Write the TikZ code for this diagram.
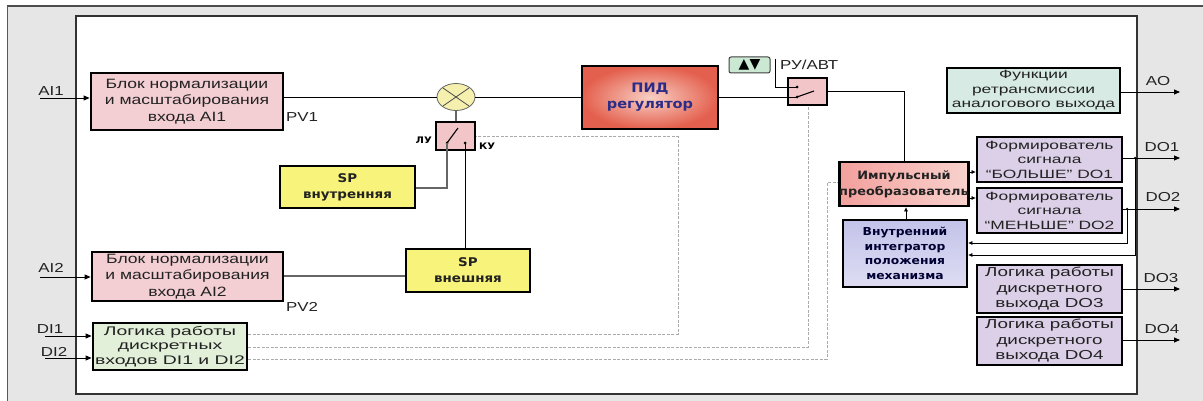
\documentclass[tikz,border=0pt]{standalone}
\usepackage{fontspec}
\setmainfont{Liberation Sans}
\newfontfamily\fr{Liberation Sans}[FakeStretch=1.3]
\newfontfamily\fw{Liberation Sans}[FakeStretch=1.45]
\newfontfamily\fwd{Liberation Sans}[FakeStretch=1.55]
\newfontfamily\fbd{DejaVu Sans}[FakeStretch=1.12]
\newfontfamily\fsym{DejaVu Sans}
\usetikzlibrary{arrows.meta,calc,shapes.geometric}
\definecolor{bgout}{HTML}{E6E6E6}
\definecolor{pinkb}{HTML}{F3CFD3}
\definecolor{swpink}{HTML}{F2C6C8}
\definecolor{yelb}{HTML}{F8F37A}
\definecolor{lavb}{HTML}{DCD0E8}
\definecolor{funcb}{HTML}{D7EBE4}
\definecolor{dib}{HTML}{E2EFD9}
\definecolor{circf}{HTML}{F5F0AE}
\definecolor{greenb}{HTML}{CBE8D3}
\definecolor{pidtxt}{HTML}{2B2B88}
\definecolor{pidout}{HTML}{E4604E}
\definecolor{pidin}{HTML}{F8CFC4}
\definecolor{impa}{HTML}{F3A09C}
\definecolor{impb}{HTML}{F9D2CE}
\definecolor{intga}{HTML}{C3C3EA}
\definecolor{intgb}{HTML}{DEDDF3}
\definecolor{txt}{HTML}{222222}
\definecolor{dash}{HTML}{ABABAB}
\tikzset{
  blk/.style={draw=black, line width=2.8pt, inner sep=0pt, align=center, text=txt},
  normb/.style={blk, fill=pinkb, font=\fr\fontsize{13.5}{16.5}\selectfont},
  wideb/.style={blk, font=\fw\fontsize{12}{14.5}\selectfont},
  boldb/.style={blk, font=\fbd\bfseries\fontsize{11}{15}\selectfont},
  lbl/.style={font=\fr\fontsize{13}{15}\selectfont, text=txt, inner sep=0pt},
  arr/.style={-{Triangle[length=6pt,width=5pt]}, line width=0.8pt},
  sarr/.style={-{Triangle[length=4pt,width=3.5pt]}, line width=0.7pt},
  ln/.style={line width=0.8pt},
  gln/.style={line width=1.1pt, draw=gray!80!black},
  dln/.style={dashed, dash pattern=on 3pt off 1.5pt, line width=1pt, draw=dash},
  dotc/.style={circle, fill=black, inner sep=0pt, minimum size=3pt},
}
\begin{document}
\begin{tikzpicture}[x=1pt,y=-1pt]
\useasboundingbox (0,0) rectangle (1203,401);
% frames
\fill[bgout] (7,6) rectangle (1203,401);
\draw[line width=2pt, draw=gray!60!black] (7,6) -- (1203,6);
\draw[line width=1pt, draw=gray!70!black] (7,6) -- (7,401);
\draw[fill=white, line width=1.2pt, draw=gray!40!black] (76,16) rectangle (1137,394);

% nodes
\node[normb, minimum width=192pt, minimum height=57pt] (normA) at (187,101.5) {Блок нормализации\\и масштабирования\\входа AI1};
\node[normb, minimum width=191pt, minimum height=49pt] (normB) at (187.5,276.5) {Блок нормализации\\и масштабирования\\входа AI2};
\node[blk, fill=dib, minimum width=154pt, minimum height=47pt, font=\fwd\fontsize{12.5}{14.5}\selectfont] (dil) at (170,346.5) {Логика работы\\дискретных\\входов DI1 и DI2};
\node[ellipse, draw=gray!80!black, line width=0.8pt, fill=circf, minimum width=38pt, minimum height=27pt, inner sep=0pt] (circ) at (456,97) {};
\draw[line width=0.8pt, gray!60!black] ($(circ.center)+(-13,-9)$) -- ($(circ.center)+(13,9)$);
\draw[line width=0.8pt, gray!60!black] ($(circ.center)+(-13,9)$) -- ($(circ.center)+(13,-9)$);
\node[blk, fill=swpink, minimum width=39pt, minimum height=28pt] (swL) at (455.5,136) {};
\node[boldb, fill=yelb, minimum width=135pt, minimum height=42pt, font=\fbd\bfseries\fontsize{12}{16}\selectfont] (spin) at (347.5,187) {SP\\внутренняя};
\node[boldb, fill=yelb, minimum width=124pt, minimum height=43pt, font=\fbd\bfseries\fontsize{12}{16}\selectfont] (spex) at (468,270.5) {SP\\внешняя};
\node[blk, shading=radial, inner color=pidin, outer color=pidout, minimum width=136pt, minimum height=63pt, font=\fbd\bfseries\fontsize{13}{16}\selectfont, text=pidtxt] (pid) at (650,97.5) {ПИД\\регулятор};
\node[draw=gray!50!black, line width=1pt, rounded corners=2pt, fill=greenb, minimum width=41pt, minimum height=16pt, inner sep=0pt, font=\fsym\fontsize{14}{14}\selectfont] (updn) at (749.5,65) {▲▼};
\node[lbl, anchor=west] (ruavt) at (780,65) {РУ/АВТ};
\node[blk, fill=swpink, minimum width=39pt, minimum height=27pt] (swR) at (807.5,91.5) {};
\node[wideb, fill=funcb, minimum width=173pt, minimum height=45pt] (func) at (1033.5,90.5) {Функции\\ретрансмиссии\\аналогового выхода};
\node[boldb, left color=impa, right color=impb, minimum width=122pt, minimum height=44pt, font=\fbd\bfseries\fontsize{11.5}{16}\selectfont] (imp) at (904,184) {Импульсный\\преобразователь};
\node[boldb, top color=intga, bottom color=intgb, minimum width=124pt, minimum height=67pt, text=black!80!blue, font=\fbd\bfseries\fontsize{11}{14.5}\selectfont] (integ) at (905,253.5) {Внутренний\\интегратор\\положения\\механизма};
\node[wideb, fill=lavb, minimum width=145pt, minimum height=45pt] (do1f) at (1049.5,159.5) {Формирователь\\сигнала\\“БОЛЬШЕ” DO1};
\node[wideb, fill=lavb, minimum width=145pt, minimum height=45pt] (do2f) at (1049.5,210.5) {Формирователь\\сигнала\\“МЕНЬШЕ” DO2};
\node[wideb, fill=lavb, minimum width=145pt, minimum height=48pt, font=\fw\fontsize{13}{15.5}\selectfont] (do3l) at (1049.5,289) {Логика работы\\дискретного\\выхода DO3};
\node[wideb, fill=lavb, minimum width=145pt, minimum height=48pt, font=\fw\fontsize{13}{15.5}\selectfont] (do4l) at (1049.5,341) {Логика работы\\дискретного\\выхода DO4};

% labels
\node[lbl] (lAI1) at (51,91) {AI1};
\node[lbl] (lAI2) at (51,268) {AI2};
\node[lbl] (lDI1) at (50,329) {DI1};
\node[lbl] (lDI2) at (54,352) {DI2};
\node[lbl] (lPV1) at (302,117) {PV1};
\node[lbl] (lPV2) at (302,307) {PV2};
\node[lbl] (lAO) at (1158,81) {AO};
\node[lbl] (lDO1) at (1162,147) {DO1};
\node[lbl] (lDO2) at (1163,197) {DO2};
\node[lbl] (lDO3) at (1161,278) {DO3};
\node[lbl] (lDO4) at (1162,329) {DO4};
\node[font=\fbd\bfseries\fontsize{9}{10}\selectfont, inner sep=0pt, anchor=east] (lLU) at (432,140) {ЛУ};
\node[font=\fbd\bfseries\fontsize{9}{10}\selectfont, inner sep=0pt, anchor=west] (lKU) at (479,146) {КУ};

% coordinates
\coordinate (inAI1) at (40,98);
\coordinate (inAI2) at (40,277);
\coordinate (inDI1) at (45,336);
\coordinate (inDI2) at (45,358);
\coordinate (luDot) at (447,143);
\coordinate (kuDot) at (465,143);
\coordinate (luTip) at (458,128);
\coordinate (rUp) at (797,87);
\coordinate (rLo) at (797,97);
\coordinate (rTip) at (814,91);
\coordinate (rTop) at (775,59);
\coordinate (outAO) at (1180,92);
\coordinate (outDO1) at (1180,158);
\coordinate (outDO2) at (1180,209);
\coordinate (outDO3) at (1180,289);
\coordinate (outDO4) at (1180,340);
\coordinate (fb1) at (1135,158);
\coordinate (fb2) at (1127,209);

% inputs
\draw[arr] (inAI1) -- (inAI1 -| normA.west);
\draw[arr] (inAI2) -- (inAI2 -| normB.west);
\draw[arr] (inDI1) -- (inDI1 -| dil.west);
\draw[arr] (inDI2) -- (inDI2 -| dil.west);

% main signal path
\draw[ln] (normA.east |- circ.west) -- (circ.west);
\draw[ln] (circ.east) -- (circ.east -| pid.west);
\draw[gln] (circ.south) -- (swL.north -| circ.south);
\draw[ln] (pid.east |- rLo) -- (rLo);
\draw[ln] (swR.east |- rTip) -- ++(76,0) coordinate (c1) -- (c1 |- imp.north);
\draw[ln] (rTop) -- (rTop |- rUp) -- (rUp);

% switches
\node[dotc] (dLU) at (luDot) {};
\node[dotc] (dKU) at (kuDot) {};
\draw[line width=1.1pt] (dLU.center) -- (luTip);
\node[dotc] (dRU) at (rUp) {};
\node[dotc] (dRL) at (rLo) {};
\draw[line width=1.1pt] (dRL.center) -- (rTip);

\draw[gln] (spin.east |- 0,188) -- (luDot |- 0,188) -- (dLU.center);
\draw[ln] (dKU.center) -- (dKU.center |- spex.north);
\draw[gln] (normB.east |- 0,276) -- (spex.west |- 0,276);

% dashed control lines
\draw[dln] (dil.east |- 0,334) -- (678,334) -- (678,137) -- (swL.east |- 0,137);
\draw[dln] (dil.east |- 0,347) -- (808,347) -- (swR.south -| 808,0);
\draw[dln] (dil.east |- 0,359) -- (827,359) -- (827,183) -- (imp.west |- 0,183);

% right side
\draw[sarr] (integ.north -| 906,0) -- (imp.south -| 906,0);
\draw[sarr] (imp.east |- 0,172) -- (do1f.west |- 0,172);
\draw[sarr] (imp.east |- 0,198) -- (do2f.west |- 0,198);
\draw[arr] (func.east |- outAO) -- (outAO);
\draw[arr] (do1f.east |- outDO1) -- (outDO1);
\draw[arr] (do2f.east |- outDO2) -- (outDO2);
\draw[arr] (do3l.east |- outDO3) -- (outDO3);
\draw[arr] (do4l.east |- outDO4) -- (outDO4);
\node[dotc, minimum size=2.5pt] (dfb1) at (fb1) {};
\node[dotc, minimum size=2.5pt] (dfb2) at (fb2) {};
\draw[sarr, line width=0.6pt] (dfb1.center) -- (fb1 |- 0,255) -- (integ.east |- 0,255);
\draw[sarr, line width=0.6pt] (dfb2.center) -- (fb2 |- 0,243) -- (integ.east |- 0,243);
\end{tikzpicture}
\end{document}
